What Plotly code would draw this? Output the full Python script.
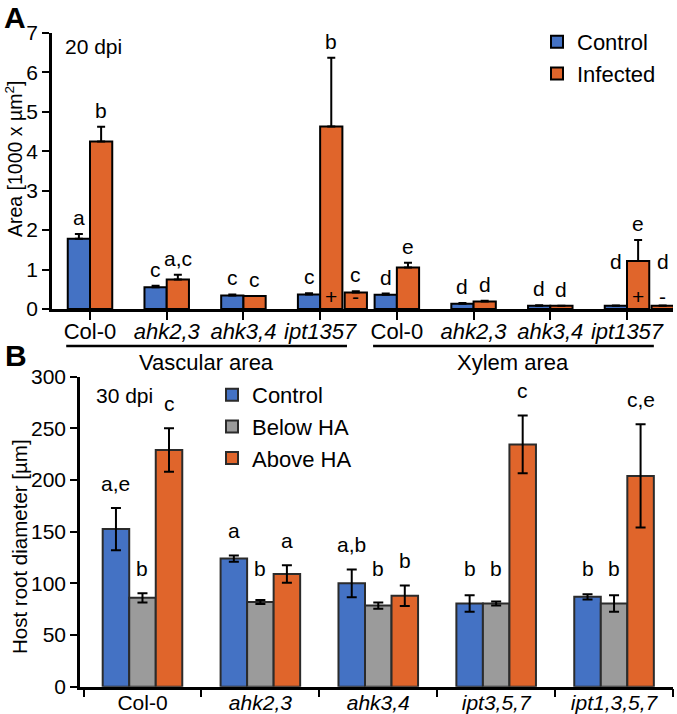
import plotly.graph_objects as go

# ---------------- Panel A data (20 dpi) ----------------
A_groups = ["Col-0", "ahk2,3", "ahk3,4", "ipt1357", "Col-0", "ahk2,3", "ahk3,4", "ipt1357"]
A_italic = [False, True, True, True, False, True, True, True]
A_control = [1.78, 0.55, 0.34, 0.37, 0.36, 0.13, 0.085, 0.08]
A_control_err = [0.12, 0.04, 0.03, 0.03, 0.03, 0.02, 0.01, 0.01]
A_infected = [4.25, 0.75, 0.33, 4.63, 1.05, 0.19, 0.08, 1.22]
A_infected_err = [0.37, 0.12, 0.0, 1.74, 0.12, 0.02, 0.0, 0.53]
A_minus = [None, None, None, 0.42, None, None, None, 0.08]
A_minus_err = [None, None, None, 0.03, None, None, None, 0.01]
A_control_sig = ["a", "c", "c", "c", "d", "d", "d", "d"]
A_infected_sig = ["b", "a,c", "c", "b", "e", "d", "d", "e"]
A_minus_sig = ["", "", "", "c", "", "", "", "d"]
A_infected_mark = ["", "", "", "+", "", "", "", "+"]
A_minus_mark = ["", "", "", "-", "", "", "", "-"]
A_regions = ["Vascular area", "Xylem area"]
A_region_groups = [[0, 3], [4, 7]]

# ---------------- Panel B data (30 dpi) ----------------
B_groups = ["Col-0", "ahk2,3", "ahk3,4", "ipt3,5,7", "ipt1,3,5,7"]
B_italic = [False, True, True, True, True]
B_control = [152.5, 124, 100, 80.5, 87]
B_control_err = [20.5, 3, 13.5, 8, 2.5]
B_below = [86, 82, 78.5, 80.5, 80.5]
B_below_err = [4.5, 2, 3, 2, 8]
B_above = [229, 109, 88, 234.5, 204]
B_above_err = [21, 8.5, 10, 28, 50]
B_control_sig = ["a,e", "a", "a,b", "b", "b"]
B_below_sig = ["b", "b", "b", "b", "b"]
B_above_sig = ["c", "a", "b", "c", "c,e"]

BLUE = "#4472C4"
ORANGE = "#E0652B"
GRAY = "#9B9B9B"
FONT = "Liberation Sans, Arial, sans-serif"
W, H = 677, 714


def fx(p):
    return p / W


def fy(p):
    return 1 - p / H


def fmt(lbl, it):
    return f"<i>{lbl}</i>" if it else lbl


fig = go.Figure()

# ---- Panel A bars ----
n = len(A_groups)
xs = list(range(n))
bw = 0.29
off_c, off_i, off_m = -bw, 0.0, bw + 0.03

fig.add_trace(go.Bar(
    x=xs, y=A_control, width=bw, offset=off_c, name="Control",
    marker=dict(color=BLUE, line=dict(color="black", width=2)),
    error_y=dict(type="data", array=A_control_err, arrayminus=[0] * n, symmetric=False,
                 color="black", thickness=2, width=4),
    xaxis="x", yaxis="y", legend="legend"))
fig.add_trace(go.Bar(
    x=xs, y=A_infected, width=bw, offset=off_i, name="Infected",
    marker=dict(color=ORANGE, line=dict(color="black", width=2)),
    error_y=dict(type="data", array=A_infected_err, arrayminus=[0] * n, symmetric=False,
                 color="black", thickness=2, width=4),
    xaxis="x", yaxis="y", legend="legend"))
mx = [i for i in xs if A_minus[i] is not None]
fig.add_trace(go.Bar(
    x=mx, y=[A_minus[i] for i in mx], width=bw, offset=off_m, showlegend=False,
    marker=dict(color=ORANGE, line=dict(color="black", width=2)),
    error_y=dict(type="data", array=[A_minus_err[i] for i in mx], arrayminus=[0] * len(mx),
                 symmetric=False, color="black", thickness=2, width=4),
    xaxis="x", yaxis="y"))

annotations = []
# label raise for the small xylem ipt bars (placed level beside the tall bar)
A_raise = {7: 0.78}


def add_letter(x, y, t, xref, yref, shift, size=21):
    if t:
        annotations.append(dict(x=x, y=y, xref=xref, yref=yref, text=t, showarrow=False,
                                xanchor="center", yanchor="bottom", yshift=shift,
                                font=dict(size=size, color="black", family=FONT)))


for i in xs:
    add_letter(i + off_c + bw / 2, max(A_control[i] + A_control_err[i], A_raise.get(i, 0)),
               A_control_sig[i], "x", "y", 3)
    add_letter(i + off_i + bw / 2, A_infected[i] + A_infected_err[i], A_infected_sig[i], "x", "y", 3)
    if A_minus[i] is not None:
        add_letter(i + off_m + bw / 2, max(A_minus[i] + A_minus_err[i], A_raise.get(i, 0)),
                   A_minus_sig[i], "x", "y", 3)
    if A_infected_mark[i]:
        annotations.append(dict(x=i + off_i + bw / 2, y=0, xref="x", yref="y", text=A_infected_mark[i],
                                showarrow=False, xanchor="center", yanchor="middle", yshift=13,
                                font=dict(size=21, color="black", family=FONT)))
    if A_minus_mark[i]:
        annotations.append(dict(x=i + off_m + bw / 2, y=0, xref="x", yref="y", text=A_minus_mark[i],
                                showarrow=False, xanchor="center", yanchor="middle", yshift=13,
                                font=dict(size=21, color="black", family=FONT)))

shapes = []
for name, (g0, g1) in zip(A_regions, A_region_groups):
    x0, x1 = g0 - 0.31, g1 + 0.35
    shapes.append(dict(type="line", xref="x", yref="paper", x0=x0, x1=x1,
                       y0=fy(346), y1=fy(346), line=dict(color="black", width=2.5)))
    annotations.append(dict(x=(x0 + x1) / 2, y=fy(362), xref="x", yref="paper", text=name,
                            showarrow=False, xanchor="center", yanchor="middle",
                            font=dict(size=22, color="black", family=FONT)))

# ---- Panel B bars ----
for vals, errs, col, nm in [(B_control, B_control_err, BLUE, "Control"),
                            (B_below, B_below_err, GRAY, "Below HA"),
                            (B_above, B_above_err, ORANGE, "Above HA")]:
    fig.add_trace(go.Bar(
        x=B_groups, y=vals, name=nm,
        marker=dict(color=col, line=dict(color="#2b2b2b", width=2)),
        error_y=dict(type="data", array=errs, color="black", thickness=2, width=5),
        xaxis="x2", yaxis="y2", legend="legend2"))

nb = len(B_groups)
gw = 1 - 0.325
for k, (vals, errs, sig) in enumerate([(B_control, B_control_err, B_control_sig),
                                       (B_below, B_below_err, B_below_sig),
                                       (B_above, B_above_err, B_above_sig)]):
    for i in range(nb):
        xc = i - gw / 2 + gw / 6 + k * gw / 3
        add_letter(xc, max(vals[i] + errs[i], 91), sig[i], "x2", "y2", 11)

# ---- free text ----
def ptext(x, y, text, size, xanchor="center", angle=0):
    annotations.append(dict(x=fx(x), y=fy(y), xref="paper", yref="paper", text=text,
                            showarrow=False, xanchor=xanchor, yanchor="middle", textangle=angle,
                            font=dict(size=size, color="black", family=FONT)))


ptext(15, 17, "<b>A</b>", 30)
ptext(16, 355, "<b>B</b>", 30)
ptext(63, 47, "20 dpi", 21, xanchor="left")
ptext(94, 395, "30 dpi", 21, xanchor="left")
ptext(14, 159, "Area [1000 x µm<sup>2</sup>]", 19.5, angle=-90)
ptext(19, 547, "Host root diameter [µm]", 20.5, angle=-90)

axis_common = dict(showline=True, linecolor="black", linewidth=2.5, ticks="outside",
                   tickcolor="black", tickwidth=2, showgrid=False, zeroline=False,
                   automargin=False)
tick21 = dict(size=21, color="black", family=FONT)
tick22 = dict(size=22, color="black", family=FONT)

pxu = (627 - 90) / 7.0
fig.update_layout(
    width=W, height=H, margin=dict(l=0, r=0, t=0, b=0, autoexpand=False),
    paper_bgcolor="white", plot_bgcolor="white",
    barmode="group", bargap=0.325, bargroupgap=0,
    font=dict(family=FONT, color="black"),
    xaxis=dict(domain=[fx(52), fx(673)], range=[-(90 - 52) / pxu, (673 - 90) / pxu],
               tickmode="array", tickvals=xs,
               ticktext=[fmt(g, it) for g, it in zip(A_groups, A_italic)],
               ticklen=8, ticklabelstandoff=-7, anchor="y", tickfont=tick22, **axis_common),
    yaxis=dict(domain=[fy(309), fy(33)], range=[0, 7], dtick=1, ticklen=7, anchor="x",
               tickfont=tick21, **axis_common),
    xaxis2=dict(domain=[fx(80), fx(673)], type="category", range=[-0.53, 4.5],
                tickmode="array", tickvals=B_groups,
                ticktext=[fmt(g, it) for g, it in zip(B_groups, B_italic)],
                tickson="boundaries", ticklen=8, ticklabelstandoff=-5, anchor="y2",
                tickfont=tick21, **axis_common),
    yaxis2=dict(domain=[fy(686.7), fy(376.7)], range=[0, 300], dtick=50, ticklen=7,
                anchor="x2", tickfont=tick21, **axis_common),
    legend=dict(x=fx(537), y=fy(21), xanchor="left", yanchor="top", bgcolor="rgba(0,0,0,0)",
                font=dict(size=22, color="black", family=FONT), itemclick=False,
                itemdoubleclick=False),
    legend2=dict(x=fx(212), y=fy(374), xanchor="left", yanchor="top", bgcolor="rgba(0,0,0,0)",
                 font=dict(size=22, color="black", family=FONT), itemclick=False,
                 itemdoubleclick=False),
    annotations=annotations, shapes=shapes,
)

fig.write_html("out.html", config={"displayModeBar": False},
               post_script="document.body.style.margin='0px';")
